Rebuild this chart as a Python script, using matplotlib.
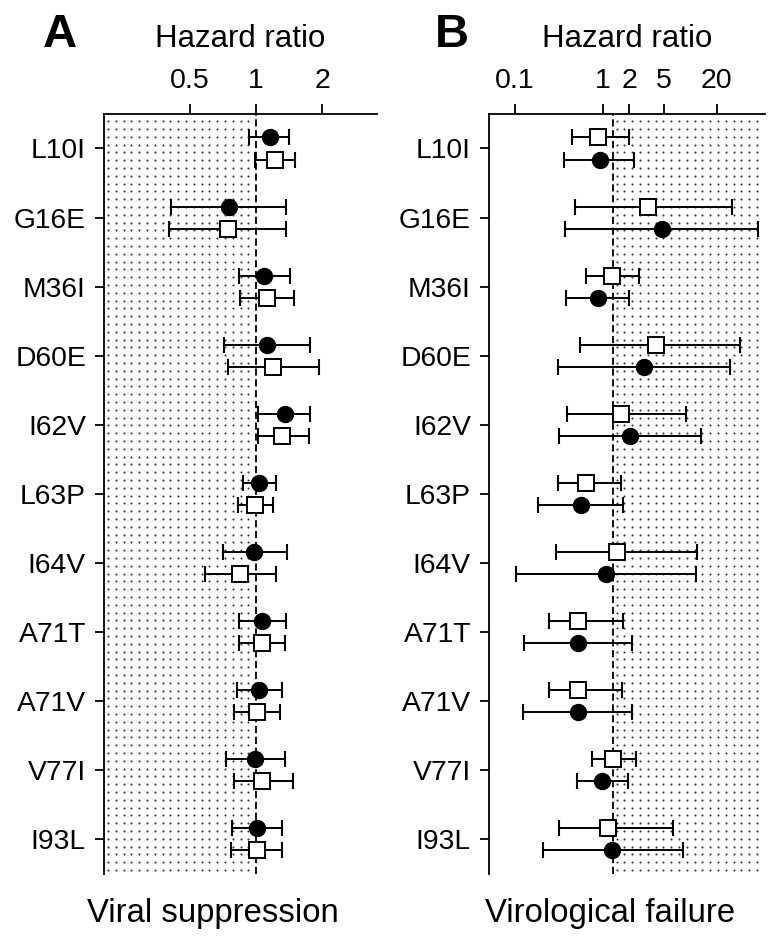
import matplotlib
matplotlib.use('Agg')
import matplotlib.pyplot as plt
import numpy as np
from matplotlib.ticker import NullLocator

plt.rcParams['font.family'] = ['Liberation Sans', 'DejaVu Sans']

###############################################################################
#                                    Data                                     #
###############################################################################

mutations = ['L10I', 'G16E', 'M36I', 'D60E', 'I62V', 'L63P',
             'I64V', 'A71T', 'A71V', 'V77I', 'I93L']

# Panel A - viral suppression (hazard ratio with 95% CI)
a_circle_hr = [1.16, 0.75, 1.09, 1.12, 1.35, 1.035, 0.98, 1.07, 1.03, 0.99, 1.01]
a_circle_lo = [0.93, 0.41, 0.834, 0.717, 1.02, 0.87, 0.705, 0.834, 0.817, 0.73, 0.775]
a_circle_hi = [1.42, 1.37, 1.43, 1.76, 1.76, 1.24, 1.39, 1.37, 1.31, 1.35, 1.31]
a_square_hr = [1.22, 0.745, 1.12, 1.20, 1.32, 0.99, 0.845, 1.06, 1.01, 1.07, 1.01]
a_square_lo = [0.99, 0.40, 0.845, 0.743, 1.02, 0.825, 0.587, 0.834, 0.794, 0.79, 0.767]
a_square_hi = [1.51, 1.37, 1.49, 1.94, 1.74, 1.19, 1.23, 1.36, 1.28, 1.47, 1.31]

# Panel B - virological failure
b_square_hr = [0.89, 3.31, 1.27, 4.02, 1.60, 0.64, 1.44, 0.527, 0.527, 1.32, 1.16]
b_square_lo = [0.443, 0.49, 0.645, 0.55, 0.395, 0.307, 0.293, 0.244, 0.244, 0.75, 0.32]
b_square_hi = [1.98, 29.5, 2.59, 36.7, 8.9, 1.62, 11.8, 1.69, 1.67, 2.40, 6.27]
b_circle_hr = [0.93, 4.71, 0.877, 2.96, 2.05, 0.56, 1.09, 0.527, 0.52, 0.98, 1.29]
b_circle_lo = [0.365, 0.375, 0.385, 0.307, 0.32, 0.182, 0.103, 0.128, 0.124, 0.513, 0.207]
b_circle_hi = [2.29, 58.4, 2.01, 28.3, 13.1, 1.72, 11.5, 2.14, 2.14, 1.93, 8.17]

a_ticks = [0.5, 1, 2]
a_tick_labels = ['0.5', '1', '2']
b_ticks = [0.1, 1, 2, 5, 20]
b_tick_labels = ['0.1', '1', '2', '5', '20']

###############################################################################
#                                  Helpers                                    #
###############################################################################

def dot_fill(ax, x0, x1, step_px=7.8):
    """Fill the band between data x0 and x1 with a fine grid of dots."""
    fig = ax.figure
    bbox = ax.get_position()
    w_px = bbox.width * fig.get_figwidth() * fig.dpi
    h_px = bbox.height * fig.get_figheight() * fig.dpi
    lx0, lx1 = np.log10(ax.get_xlim())
    f0 = (np.log10(x0) - lx0) / (lx1 - lx0)
    f1 = (np.log10(x1) - lx0) / (lx1 - lx0)
    xs = np.arange(f0 * w_px + step_px / 2, f1 * w_px - 1, step_px) / w_px
    ys = np.arange(step_px / 2, h_px, step_px) / h_px
    gx, gy = np.meshgrid(xs, ys)
    ax.scatter(gx.ravel(), gy.ravel(), s=2.2, marker='o', color='#333333',
               linewidths=0, transform=ax.transAxes, zorder=0, clip_on=True)


def draw_series(ax, rows, hr, lo, hi, marker, offset):
    ys = [r + offset for r in rows]
    xerr = [[h - l for h, l in zip(hr, lo)], [u - h for h, u in zip(hr, hi)]]
    ax.errorbar(hr, ys, xerr=xerr, fmt='none', ecolor='black',
                elinewidth=1.4, capsize=5.5, capthick=1.5, zorder=3)
    if marker == 'o':
        ax.plot(hr, ys, 'o', color='black', markersize=11.5, zorder=4)
    else:
        ax.plot(hr, ys, 's', markerfacecolor='white', markeredgecolor='black',
                markeredgewidth=1.4, markersize=11, zorder=4)


def style_axis(ax, xlim, ticks, labels):
    ax.set_xscale('log')
    ax.set_xlim(*xlim)
    ax.set_ylim(len(mutations) - 0.5, -0.5)
    ax.set_xticks(ticks)
    ax.set_xticklabels(labels)
    ax.xaxis.set_minor_locator(NullLocator())
    ax.set_yticks(range(len(mutations)))
    ax.set_yticklabels(mutations)
    ax.xaxis.tick_top()
    ax.xaxis.set_label_position('top')
    ax.spines['right'].set_visible(False)
    ax.spines['bottom'].set_visible(False)
    for s in ('left', 'top'):
        ax.spines[s].set_linewidth(1.3)
    ax.tick_params(axis='x', length=7.5, width=1.3, pad=7, labelsize=20.5)
    ax.tick_params(axis='y', length=6.5, width=1.3, pad=6.5, labelsize=20.3)
    ax.set_xlabel('Hazard ratio', fontsize=22.5, labelpad=15)

###############################################################################
#                                Main Script                                  #
###############################################################################

def main():
    rows = list(range(len(mutations)))
    fig = plt.figure(figsize=(7.74, 9.43), dpi=100)

    # Panel A
    ax_a = fig.add_axes([0.1344, 0.0732, 0.3527, 0.806])
    a_xlim = (0.203, 3.56)
    style_axis(ax_a, a_xlim, a_ticks, a_tick_labels)
    dot_fill(ax_a, a_xlim[0], 1)
    ax_a.axvline(1, color='black', linestyle=(0, (4, 2)), linewidth=1.3, zorder=2)
    draw_series(ax_a, rows, a_circle_hr, a_circle_lo, a_circle_hi, 'o', -0.16)
    draw_series(ax_a, rows, a_square_hr, a_square_lo, a_square_hi, 's', 0.16)
    ax_a.set_xlim(*a_xlim)
    ax_a.set_ylim(len(mutations) - 0.5, -0.5)

    # Panel B (reference line sits slightly right of 1 in the original)
    ax_b = fig.add_axes([0.6318, 0.0732, 0.3566, 0.806])
    b_xlim = (0.0506, 71)
    b_ref = 1.3
    style_axis(ax_b, b_xlim, b_ticks, b_tick_labels)
    dot_fill(ax_b, b_ref, b_xlim[1])
    ax_b.axvline(b_ref, color='black', linestyle=(0, (4, 2)), linewidth=1.3, zorder=2)
    draw_series(ax_b, rows, b_square_hr, b_square_lo, b_square_hi, 's', -0.16)
    draw_series(ax_b, rows, b_circle_hr, b_circle_lo, b_circle_hi, 'o', 0.16)
    ax_b.set_xlim(*b_xlim)
    ax_b.set_ylim(len(mutations) - 0.5, -0.5)

    # Panel letters and captions
    fig.text(43 / 774, 1 - 47 / 943, 'A', fontsize=34, fontweight='bold',
             ha='left', va='baseline')
    fig.text(435 / 774, 1 - 47 / 943, 'B', fontsize=34, fontweight='bold',
             ha='left', va='baseline')
    fig.text(213 / 774, 1 - 922 / 943, 'Viral suppression', fontsize=23.7,
             ha='center', va='baseline')
    fig.text(610 / 774, 1 - 922 / 943, 'Virological failure', fontsize=23.7,
             ha='center', va='baseline')

    plt.savefig('out.png', dpi=100)


if __name__ == "__main__":
    main()
